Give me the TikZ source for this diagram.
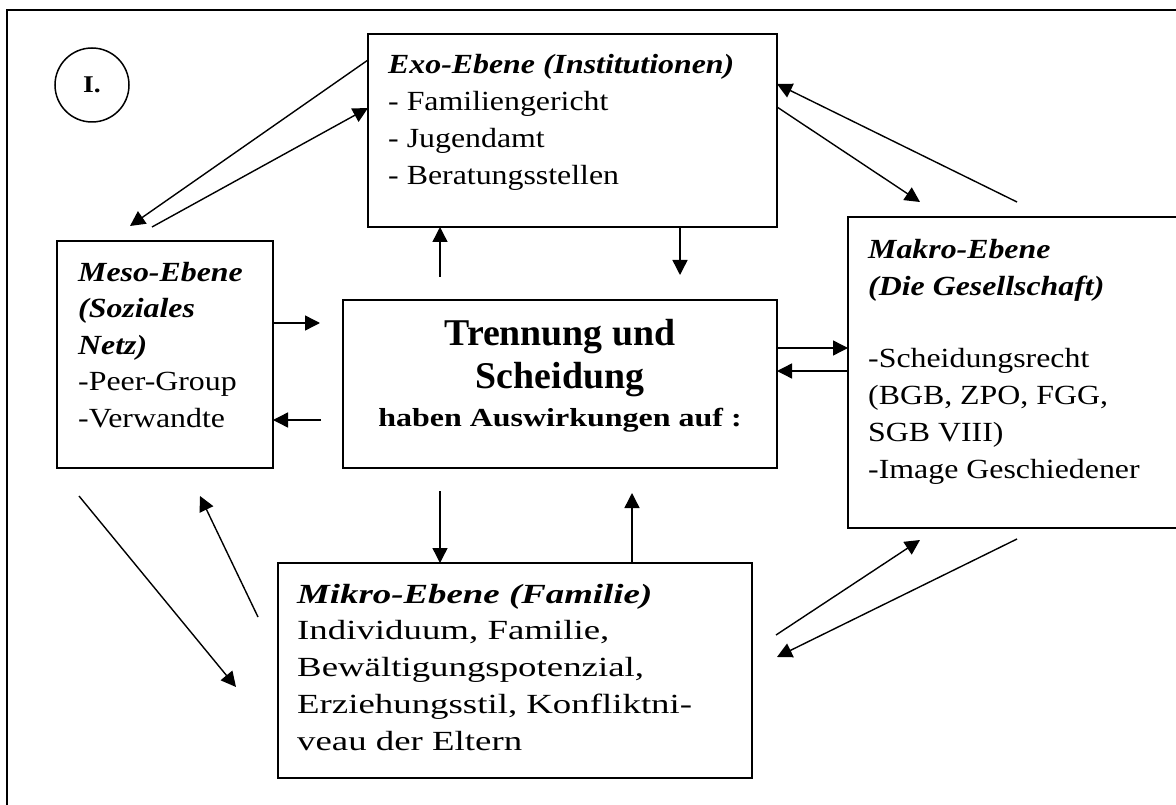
\documentclass[tikz,border=0pt]{standalone}
\usepackage{fontspec}
\setmainfont{Liberation Serif}[FakeStretch=1.15]
\newfontfamily\schlichtfont{Liberation Serif}
\newfontfamily\habenfont{Liberation Serif}[FakeStretch=1.23]
\newfontfamily\mikrofont{Liberation Serif}[FakeStretch=1.33]
\usetikzlibrary{arrows.meta,calc}

\begin{document}
\begin{tikzpicture}[x=1pt,y=-1pt,
    ebene/.style={draw,line width=2pt,anchor=north west,inner sep=0pt,outer sep=0pt},
    txt/.style={anchor=base west,align=left,inner sep=0pt,font=\fontsize{27.7}{37}\selectfont},
    pfeil/.style={line width=1.4pt,-{Triangle[length=15pt,width=15pt]}}]
  \useasboundingbox (0,0) rectangle (1176,805);
  \clip (0,0) rectangle (1176,805);
  \draw[line width=2.5pt] (7,830) -- (7,10) -- (1200,10);
  \node[draw,circle,line width=1.5pt,minimum size=74pt,inner sep=0pt,
    font=\fontsize{24}{28}\selectfont\bfseries] (nr) at (92,85) {I.};
  % die Ebenen
  \node[ebene,minimum width=409pt,minimum height=193pt] (exo) at (368,34) {};
  \node[ebene,minimum width=216pt,minimum height=227pt] (meso) at (57,241) {};
  \node[ebene,minimum width=434pt,minimum height=168pt] (trennung) at (343,300) {};
  \node[ebene,minimum width=360pt,minimum height=311pt] (makro) at (848,217) {};
  \node[ebene,minimum width=474pt,minimum height=215pt] (mikro) at (278,563) {};
  % Texte, verankert an der letzten Zeile
  \node[txt] (exotxt) at (388,185) {\textbf{\textit{Exo-Ebene (Institutionen)}}\\
    - Familiengericht\\- Jugendamt\\- Beratungsstellen};
  \node[txt,font=\fontsize{27.7}{36.4}\selectfont] (mesotxt) at (78,427) {\textbf{\textit{Meso-Ebene}}\\
    \textbf{\textit{(Soziales}}\\\textbf{\textit{Netz)}}\\-Peer-Group\\-Verwandte};
  \node[txt] (makrotxt) at (868,478) {\textbf{\textit{Makro-Ebene}}\\
    \textbf{\textit{(Die Gesellschaft)}}\\[35pt]-Scheidungsrecht\\(BGB, ZPO, FGG,\\
    SGB VIII)\\-Image Geschiedener};
  \node[txt,font=\mikrofont\fontsize{27.7}{36.75}\selectfont] (mikrotxt) at (297,750)
    {\textbf{\textit{Mikro-Ebene (Familie)}}\\
    Individuum, Familie,\\Bewältigungspotenzial,\\Erziehungsstil, Konfliktni-\\
    veau der Eltern};
  \node[anchor=base,align=center,inner sep=0pt,
    font=\schlichtfont\fontsize{37.8}{43}\selectfont\bfseries]
    (trennungtxt) at (560,426) {Trennung und\\Scheidung\\[-5pt]
    {\habenfont\fontsize{26}{30}\selectfont\bfseries haben Auswirkungen auf :}};
  % freie Pfeilenden
  \coordinate (mesoO) at (130,226);
  \coordinate (mesoU) at (152,227);
  \coordinate (zExoA) at (440,277);
  \coordinate (zExoB) at (680,275);
  \coordinate (makroA) at (920,202);
  \coordinate (makroB) at (1017,202);
  \coordinate (zMesoA) at (320,323);
  \coordinate (zMesoB) at (321,420);
  \coordinate (zMikroA) at (440,491);
  \coordinate (zMikroB) at (632,493);
  \coordinate (mesoA) at (79,496);
  \coordinate (mikroA) at (236,687);
  \coordinate (mikroB) at (258,617);
  \coordinate (mesoB) at (200,496);
  \coordinate (mikroC) at (776,635);
  \coordinate (makroC) at (920,540);
  \coordinate (makroD) at (1017,539);
  \coordinate (mikroD) at (777,657);
  % Pfeile
  \draw[pfeil] ($(exo.north west)+(0,26)$) -- (mesoO);
  \draw[pfeil] (mesoU) -- ($(exo.north west)+(0,74)$);
  \draw[pfeil] (zExoA) -- (zExoA |- exo.south);
  \draw[pfeil] (zExoB |- exo.south) -- (zExoB);
  \draw[pfeil] ($(exo.north east)+(0,73)$) -- (makroA);
  \draw[pfeil] (makroB) -- ($(exo.north east)+(0,50)$);
  \draw[pfeil] (zMesoA -| meso.east) -- (zMesoA);
  \draw[pfeil] (zMesoB) -- (zMesoB -| meso.east);
  \draw[pfeil] ($(trennung.north east)+(0,48)$) -- ($(makro.north west)+(0,131)$);
  \draw[pfeil] ($(makro.north west)+(0,154)$) -- ($(trennung.north east)+(0,71)$);
  \draw[pfeil] (zMikroA) -- (zMikroA |- mikro.north);
  \draw[pfeil] (zMikroB |- mikro.north) -- (zMikroB);
  \draw[pfeil] (mesoA) -- (mikroA);
  \draw[pfeil] (mikroB) -- (mesoB);
  \draw[pfeil] (mikroC) -- (makroC);
  \draw[pfeil] (makroD) -- (mikroD);
\end{tikzpicture}
\end{document}
